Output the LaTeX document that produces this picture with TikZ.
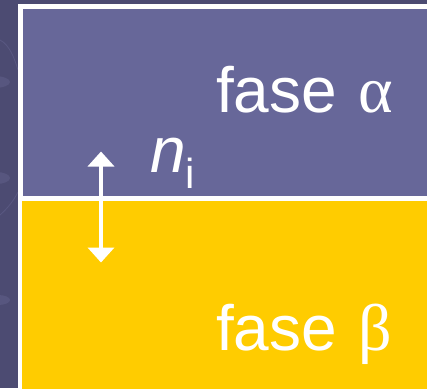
\documentclass[tikz,border=0pt]{standalone}
\usepackage{fontspec}
\setmainfont{Liberation Sans}
\newfontfamily\greekfont{Liberation Serif}
\usetikzlibrary{arrows.meta}
\definecolor{bgdark}{RGB}{76,75,114}
\definecolor{bgswirl}{RGB}{98,97,140}
\definecolor{phasea}{RGB}{103,103,153}
\definecolor{phaseb}{RGB}{255,204,0}
\tikzset{
  phaselabel/.style={text=white, inner sep=0pt, anchor=base west, font=\fontsize{64}{64}\selectfont},
  flux/.style={white, line width=4pt, {Triangle[width=26pt,length=15pt]}-{Triangle[width=26pt,length=15pt]}}
}
\begin{document}
\begin{tikzpicture}[x=1pt,y=-1pt]
\useasboundingbox (0,0) rectangle (427,388);
% background
\fill[bgdark] (0,0) rectangle (427,388);
\fill[bgswirl, opacity=0.5] (-6,82) ellipse (16pt and 6pt);
\fill[bgswirl, opacity=0.5] (-4,178) ellipse (14pt and 6pt);
\fill[bgswirl, opacity=0.5] (-2,300) ellipse (12pt and 5pt);
\draw[bgswirl, opacity=0.6, line width=0.8pt] (0,40) .. controls (10,45) and (15,60) .. (18,70);
\draw[bgswirl, opacity=0.6, line width=0.8pt] (0,215) .. controls (8,208) and (14,200) .. (18,192);
% white frame
\fill[white] (18.3,4.3) rectangle (430,392);
% phases
\fill[phasea] (23.3,9) rectangle (430,195.7);
\fill[phaseb] (21.7,201) rectangle (430,392);
% labels
\node[phaselabel] (alpha) at (216,112) {fase\ \hspace{4pt}{\greekfont\fontsize{66}{66}\selectfont α}};
\node[phaselabel] (beta) at (216,350) {fase\ \hspace{4pt}{\greekfont\fontsize{66}{66}\selectfont β}};
\node[phaselabel] (ni) at (150,172) {\textit{n}\raisebox{-16pt}{\fontsize{42}{42}\selectfont i}};
% arrow
\coordinate (up) at (101,151.5);
\coordinate (down) at (101,262.5);
\draw[flux] (down) -- (up);
\end{tikzpicture}
\end{document}
